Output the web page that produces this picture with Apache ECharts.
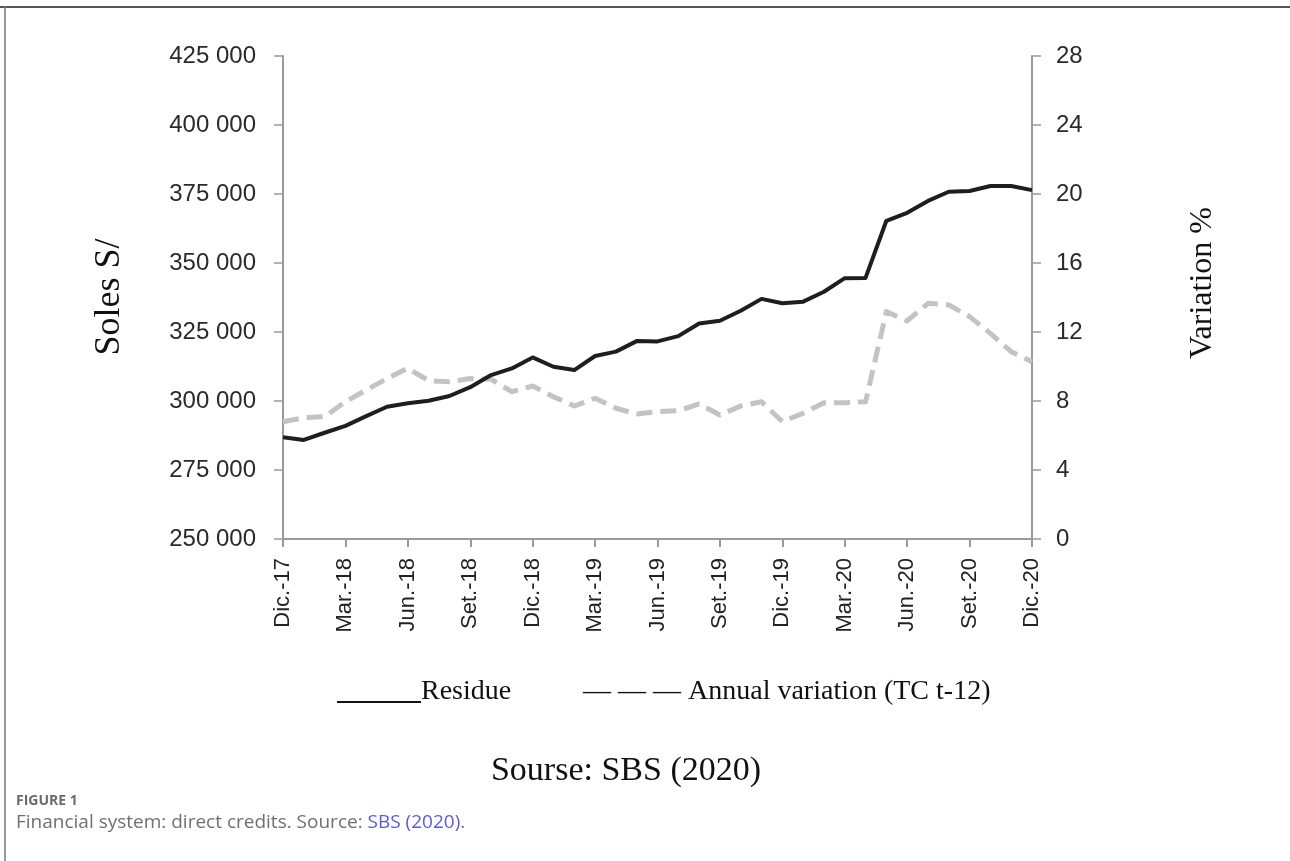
<!DOCTYPE html>
<html>
<head>
<meta charset="utf-8">
<script src="https://cdn.jsdelivr.net/npm/echarts@6/dist/echarts.min.js"></script>
<style>
html,body{margin:0;padding:0;background:#fff;}
#chart{width:1290px;height:861px;}
</style>
</head>
<body>
<div id="chart"></div>
<script>
const months = ['Dic.-17','Ene.-18','Feb.-18','Mar.-18','Abr.-18','May.-18','Jun.-18','Jul.-18','Ago.-18','Set.-18','Oct.-18','Nov.-18',
  'Dic.-18','Ene.-19','Feb.-19','Mar.-19','Abr.-19','May.-19','Jun.-19','Jul.-19','Ago.-19','Set.-19','Oct.-19','Nov.-19',
  'Dic.-19','Ene.-20','Feb.-20','Mar.-20','Abr.-20','May.-20','Jun.-20','Jul.-20','Ago.-20','Set.-20','Oct.-20','Nov.-20','Dic.-20'];
const residue = [286850, 285900, 288500, 291000, 294500, 297900, 299200, 300100, 301800, 305000, 309400, 311800,
  315800, 312400, 311200, 316300, 317900, 321700, 321600, 323500, 328100, 329100, 332700, 337000,
  335400, 336000, 339600, 344500, 344600, 365300, 368200, 372500, 375800, 376100, 377900, 377900, 376400];
const annualVariation = [6.8, 7.03, 7.09, 7.96, 8.64, 9.3, 9.9, 9.18, 9.12, 9.3, 9.26, 8.54,
  8.87, 8.25, 7.71, 8.16, 7.58, 7.25, 7.38, 7.44, 7.83, 7.19, 7.71, 7.96,
  6.8, 7.29, 7.9, 7.9, 7.96, 13.18, 12.64, 13.66, 13.57, 12.89, 11.92, 10.86, 10.28];
const leftAxis = {min: 250000, max: 425000, interval: 25000, name: 'Soles S/'};
const rightAxis = {min: 0, max: 28, interval: 4, name: 'Variation %'};
const seriesNames = ['Residue', 'Annual variation (TC t-12)'];

const tickFont = "'Liberation Sans', Arial, sans-serif";
const serif = "'Liberation Serif', 'Times New Roman', serif";
const axisColor = '#9a9a9a';

const chart = echarts.init(document.getElementById('chart'));
chart.setOption({
  animation: false,
  backgroundColor: '#fff',
  grid: {left: 283, right: 258, top: 56, bottom: 322, containLabel: false},
  xAxis: {
    type: 'category', data: months, boundaryGap: false,
    axisLine: {lineStyle: {color: axisColor, width: 2}},
    axisTick: {interval: 2, length: 8, lineStyle: {color: axisColor, width: 2}},
    axisLabel: {interval: 2, rotate: 90, margin: 19, fontSize: 22, color: '#222', fontFamily: tickFont},
    splitLine: {show: false}
  },
  yAxis: [
    {
      type: 'value', min: leftAxis.min, max: leftAxis.max, interval: leftAxis.interval,
      axisLine: {show: true, lineStyle: {color: axisColor, width: 2}},
      axisTick: {show: true, length: 9, lineStyle: {color: axisColor, width: 1.5}},
      axisLabel: {margin: 27, fontSize: 24, color: '#2a2a2a', fontFamily: tickFont,
        formatter: v => String(v).replace(/\B(?=(\d{3})+(?!\d))/g, ' ')},
      splitLine: {show: false}
    },
    {
      type: 'value', min: rightAxis.min, max: rightAxis.max, interval: rightAxis.interval,
      axisLine: {show: true, lineStyle: {color: axisColor, width: 2}},
      axisTick: {show: true, length: 9, lineStyle: {color: axisColor, width: 1.5}},
      axisLabel: {margin: 24, fontSize: 24, color: '#2a2a2a', fontFamily: tickFont},
      splitLine: {show: false}
    }
  ],
  series: [
    {
      name: seriesNames[0], type: 'line', yAxisIndex: 0, data: residue,
      showSymbol: false, symbol: 'none',
      lineStyle: {color: '#1e1e1e', width: 4, join: 'round'}, z: 3
    },
    {
      name: seriesNames[1], type: 'line', yAxisIndex: 1, data: annualVariation,
      showSymbol: false, symbol: 'none',
      lineStyle: {color: '#c3c3c3', width: 5, type: [16, 8], join: 'round'}, z: 2
    }
  ],
  graphic: [
    {type: 'line', shape: {x1: 0, y1: 7, x2: 1290, y2: 7}, style: {stroke: '#555', lineWidth: 2}},
    {type: 'line', shape: {x1: 5, y1: 6, x2: 5, y2: 861}, style: {stroke: '#777', lineWidth: 1.5}},
    {type: 'text', x: 110, y: 297, rotation: Math.PI / 2, style: {text: leftAxis.name, font: "36px " + serif, fill: '#111', textAlign: 'center', textVerticalAlign: 'middle'}},
    {type: 'text', x: 1203, y: 283, rotation: Math.PI / 2, style: {text: rightAxis.name, font: "32px " + serif, fill: '#111', textAlign: 'center', textVerticalAlign: 'middle'}},
    {type: 'line', shape: {x1: 337, y1: 702, x2: 421, y2: 702}, style: {stroke: '#111', lineWidth: 2}},
    {type: 'text', x: 421, y: 692, style: {text: seriesNames[0], font: "28px " + serif, fill: '#111', textVerticalAlign: 'middle'}},
    {type: 'text', x: 583, y: 692, style: {text: '— — — ' + seriesNames[1], font: "28px " + serif, fill: '#111', textVerticalAlign: 'middle'}},
    {type: 'text', x: 626, y: 771, style: {text: 'Sourse: SBS (2020)', font: "34px " + serif, fill: '#111', textAlign: 'center', textVerticalAlign: 'middle'}},
    {type: 'text', x: 16, y: 801, style: {text: 'FIGURE 1', font: "bold 14px 'Open Sans', sans-serif", fill: '#6b6b6b', textVerticalAlign: 'middle'}},
    {type: 'text', x: 16, y: 823, style: {
      text: '{a|Financial system: direct credits. Source: }{b|SBS (2020)}{a|.}',
      rich: {
        a: {fontFamily: "'Open Sans', sans-serif", fontSize: 19, fill: '#707070', color: '#707070'},
        b: {fontFamily: "'Open Sans', sans-serif", fontSize: 19, fill: '#5b5bd6', color: '#5b5bd6'}
      },
      textVerticalAlign: 'middle'
    }}
  ]
});
</script>
</body>
</html>
